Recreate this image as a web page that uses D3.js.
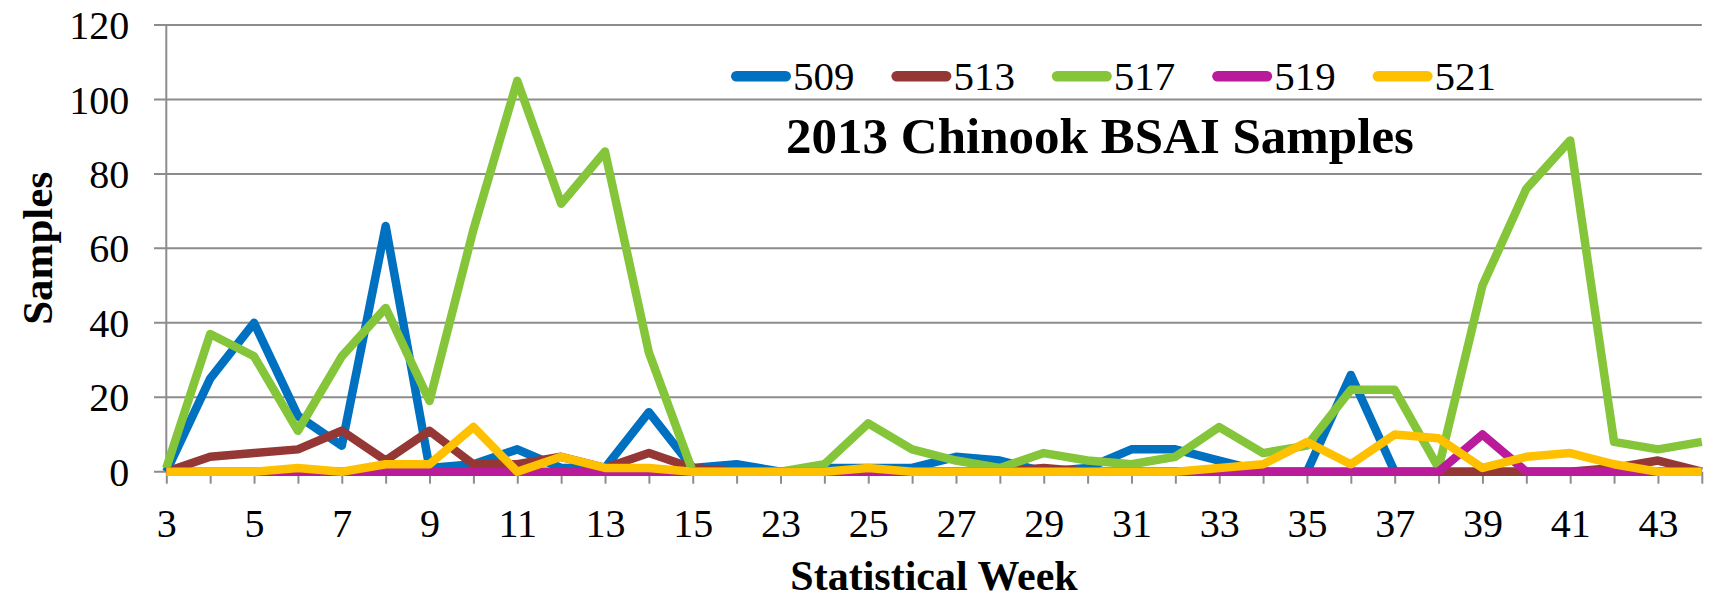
<!DOCTYPE html>
<html>
<head>
<meta charset="utf-8">
<script src="https://cdn.jsdelivr.net/npm/d3@7"></script>
<style>
  html, body { margin: 0; padding: 0; background: #fff; }
  svg { display: block; }
  text { font-family: "Liberation Serif", "Times New Roman", serif; fill: #000; }
</style>
</head>
<body>
<svg id="chart" width="1729" height="599"></svg>
<script>
// ---- data ----
const weeks = ["3","4","5","6","7","8","9","10","11","12","13","14","15","16",
  "23","24","25","26","27","28","29","30","31","32","33","34","35","36","37","38","39","40","41","42","43","44"];
const weekTickLabels = ["3","5","7","9","11","13","15","23","25","27","29","31","33","35","37","39","41","43"];
const seriesNames = ["509","513","517","519","521"];
const seriesColors = ["#0070C0","#953735","#84C53A","#BA1B9A","#FFC000"];
const s509 = [0,25,40,15,7,66,1,2,6,1,1,16,1,2, 0,1,1,1,4,3,0,1,6,6,3,0,0,26,0,0,0,0,0,0,0,0];
const s513 = [0,4,5,6,11,3,11,2,2,4,1,5,1,0, 0,0,0,0,0,0,1,0,0,0,0,0,0,0,0,0,0,0,0,1,3,0];
const s517 = [1,37,31,11,31,44,19,65,105,72,86,32,0,0, 0,2,13,6,3,1,5,3,2,4,12,5,7,22,22,1,50,76,89,8,6,8];
const s519 = [0,0,0,0,0,0,0,0,0,0,0,0,0,0, 0,0,0,0,0,0,0,0,0,0,0,0,0,0,0,0,10,0,0,0,0,0];
const s521 = [0,0,0,1,0,2,2,12,0,4,1,1,0,0, 0,0,1,0,0,0,0,0,0,0,1,2,8,2,10,9,1,4,5,2,0,0];
const yTicks = [0,20,40,60,80,100,120];
const titleText = "2013 Chinook BSAI Samples";
const xTitle = "Statistical Week";
const yTitle = "Samples";

const seriesValues = [s509, s513, s517, s519, s521];

// ---- layout ----
const svg = d3.select("#chart");
svg.append("rect").attr("width",1729).attr("height",599).attr("fill","#fff");

const x = d3.scalePoint().domain(weeks).range([166.3, 1701.8]);
const y = d3.scaleLinear().domain([0,120]).range([471.7, 25]);
const gridColor = "#8c8c8c";
const serif = "'Liberation Serif', 'Times New Roman', serif";

// horizontal gridlines (extend left past axis as tick marks)
const gGrid = svg.append("g");
gGrid.selectAll("line").data(yTicks).join("line")
  .attr("x1",154).attr("x2",1701.8)
  .attr("y1",d=>y(d)).attr("y2",d=>y(d))
  .attr("stroke",gridColor).attr("stroke-width",2);

// y axis labels
const yAx = svg.append("g").attr("transform","translate(166.3,0)")
  .call(d3.axisLeft(y).tickValues(yTicks).tickSize(0).tickPadding(37).tickFormat(d3.format("d")));
yAx.attr("font-family", serif).attr("font-size", 40);
yAx.select(".domain").remove();
yAx.selectAll("text").style("font-size","40px").style("font-family",serif).attr("fill","#000").attr("dy","0.34em");

// vertical axis line
svg.append("line").attr("x1",166.3).attr("x2",166.3).attr("y1",y(120)).attr("y2",y(0))
  .attr("stroke",gridColor).attr("stroke-width",2);

// x axis
const xAx = svg.append("g").attr("transform",`translate(0,${y(0)})`)
  .call(d3.axisBottom(x).tickSize(12).tickPadding(0)
    .tickFormat(d => weekTickLabels.includes(d) && (weeks.indexOf(d) % 2 === 0) ? d : ""));
xAx.attr("font-family", serif).attr("font-size", 40);
xAx.select(".domain").remove();
xAx.selectAll(".tick line").attr("stroke",gridColor).attr("stroke-width",2);
xAx.selectAll("text").style("font-size","40px").style("font-family",serif).attr("fill","#000")
  .attr("y",65).attr("dy","0");

// lines
const line = d3.line().x((d,i)=>x(weeks[i])).y(d=>y(d));
const gLines = svg.append("g");
seriesValues.forEach((vals,k)=>{
  gLines.append("path").datum(vals)
    .attr("d",line).attr("fill","none")
    .attr("stroke",seriesColors[k]).attr("stroke-width",8.5)
    .attr("stroke-linejoin","round").attr("stroke-linecap","butt");
});

// legend
const legend = svg.append("g");
seriesNames.forEach((name,k)=>{
  const x0 = 731 + k*160.4;
  legend.append("line").attr("x1",x0+5.25).attr("x2",x0+60-5.25).attr("y1",76.2).attr("y2",76.2)
    .attr("stroke",seriesColors[k]).attr("stroke-width",10.5).attr("stroke-linecap","round");
  legend.append("text").attr("x",x0+62).attr("y",90).style("font-size","41px").style("font-family",serif).text(name);
});

// title
svg.append("text").attr("x",1100).attr("y",153.3).attr("text-anchor","middle")
  .style("font-size","51px").style("font-weight","bold").style("font-family",serif).text(titleText);

// axis titles
svg.append("text").attr("x",(166.3+1701.8)/2).attr("y",590).attr("text-anchor","middle")
  .style("font-size","42px").style("font-weight","bold").style("font-family",serif).text(xTitle);
svg.append("text").attr("transform",`translate(51.5,${(y(0)+y(120))/2}) rotate(-90)`)
  .attr("text-anchor","middle").style("font-size","43px").style("font-weight","bold").style("font-family",serif).text(yTitle);
</script>
</body>
</html>
